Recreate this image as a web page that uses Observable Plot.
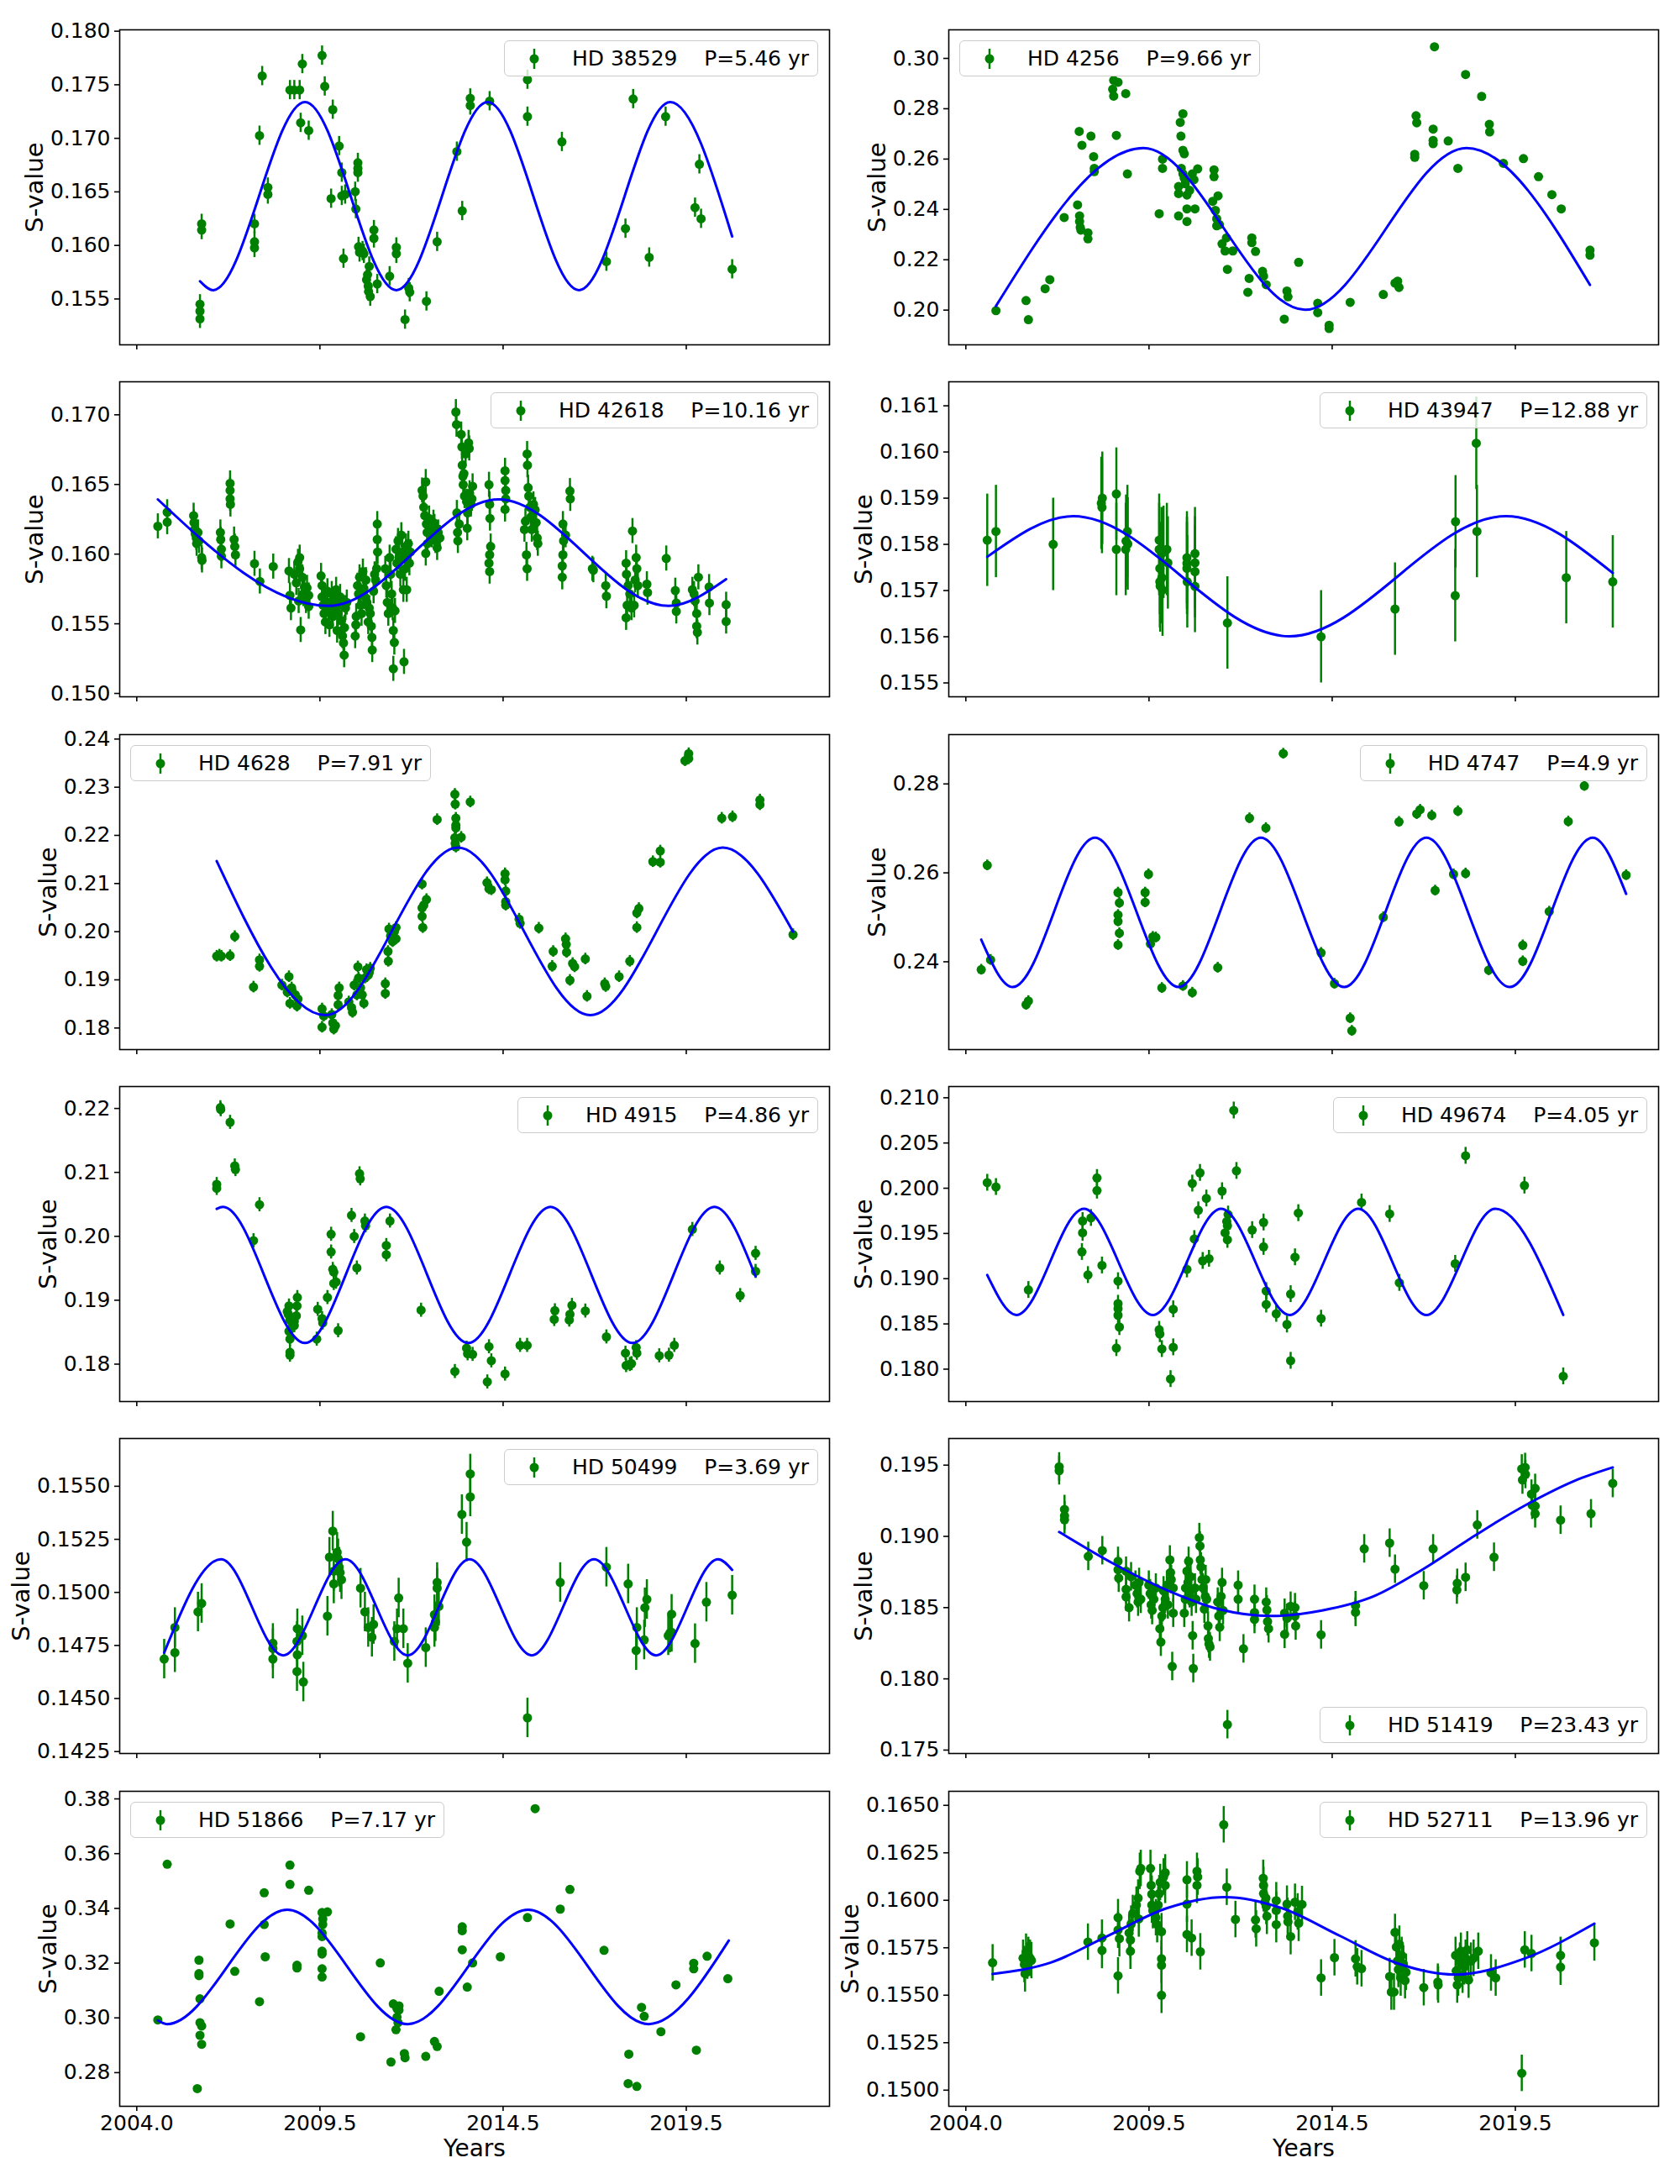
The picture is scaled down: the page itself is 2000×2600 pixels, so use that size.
<!DOCTYPE html>
<html><head><meta charset="utf-8">
<script src="https://cdn.jsdelivr.net/npm/d3@7"></script>
<script src="https://cdn.jsdelivr.net/npm/@observablehq/plot@0.6"></script>
<style>
body{margin:0;background:#fff;}
#fig{position:relative;width:2000px;height:2600px;background:#fff;font-family:"DejaVu Sans",sans-serif;overflow:hidden;}
#fig svg.plot{position:absolute;}
.overlay{position:absolute;pointer-events:none;}
.legend{position:absolute;display:flex;align-items:center;height:43px;box-sizing:border-box;border:1.6px solid #cccccc;border-radius:6px;background:rgba(255,255,255,0.8);padding:0 10px;font-size:25px;white-space:pre;color:#000;font-family:"DejaVu Sans",sans-serif;}
.legend svg{margin-right:20px;}
</style></head><body><div id="fig"></div>
<script>
// ---------- shared x axis ----------
const xDomain = [2003.49, 2024.71];
const xTickValues = [2004.0, 2009.476, 2014.952, 2020.428];
const xTickLabels = ["2004.0", "2009.5", "2014.5", "2019.5"];

// ---------- stars ----------
const stars = ["HD 38529","HD 4256","HD 42618","HD 43947","HD 4628","HD 4747","HD 4915","HD 49674","HD 50499","HD 51419","HD 51866","HD 52711"];
const periods = ["5.46","9.66","10.16","12.88","7.91","4.9","4.86","4.05","3.69","23.43","7.17","13.96"];
const legendCorner = ["tr","tl","tr","tr","tl","tr","tr","tr","tr","br","tl","tr"];
const errHalf = [0.0009,0.001,0.0009,0.001,0.0012,0.0012,0.0011,0.00093,0.00093,0.001,0.001,0.00096];
const yDomains = [[0.15072,0.18013],[0.18621,0.31135],[0.14976,0.17237],[0.15470,0.16152],[0.17552,0.24093],[0.22025,0.29110],
                  [0.17415,0.22343],[0.17642,0.21124],[0.14241,0.15725],[0.17476,0.19687],[0.26770,0.38277],[0.14915,0.16574]];
const yTickLabels = [
  ["0.155","0.160","0.165","0.170","0.175","0.180"],
  ["0.20","0.22","0.24","0.26","0.28","0.30"],
  ["0.150","0.155","0.160","0.165","0.170"],
  ["0.155","0.156","0.157","0.158","0.159","0.160","0.161"],
  ["0.18","0.19","0.20","0.21","0.22","0.23","0.24"],
  ["0.24","0.26","0.28"],
  ["0.18","0.19","0.20","0.21","0.22"],
  ["0.180","0.185","0.190","0.195","0.200","0.205","0.210"],
  ["0.1425","0.1450","0.1475","0.1500","0.1525","0.1550"],
  ["0.175","0.180","0.185","0.190","0.195"],
  ["0.28","0.30","0.32","0.34","0.36","0.38"],
  ["0.1500","0.1525","0.1550","0.1575","0.1600","0.1625","0.1650"]
];

// ---------- observations [year, S-value] ----------
const hd38529 = [[2005.89,0.15451],[2005.89,0.15386],[2005.89,0.15315],[2005.94,0.16202],[2005.94,0.16144],
[2007.52,0.16202],[2007.52,0.16034],[2007.52,0.15977],[2007.67,0.17025],[2007.75,0.17582],
[2007.92,0.16541],[2007.92,0.16476],[2008.58,0.17451],[2008.71,0.17451],[2008.87,0.17451],
[2008.90,0.17145],[2008.95,0.17694],[2009.14,0.17072],[2009.54,0.17773],[2009.62,0.17485],
[2009.81,0.16437],[2009.86,0.17268],[2010.05,0.16928],[2010.13,0.16680],[2010.13,0.16463],
[2010.18,0.15877],[2010.23,0.16476],[2010.53,0.16502],[2010.55,0.16340],[2010.61,0.16771],
[2010.61,0.16719],[2010.61,0.16680],[2010.63,0.15987],[2010.66,0.15935],[2010.75,0.15948],
[2010.79,0.15922],[2010.87,0.15679],[2010.90,0.15726],[2010.92,0.15621],[2010.93,0.15569],
[2010.95,0.15804],[2010.98,0.15522],[2011.09,0.16144],[2011.09,0.16066],[2011.19,0.15640],
[2011.56,0.15713],[2011.76,0.15982],[2011.76,0.15922],[2012.02,0.15308],[2012.13,0.15603],
[2012.16,0.15564],[2012.66,0.15478],[2012.98,0.16034],[2013.57,0.16876],[2013.73,0.16322],
[2013.97,0.17373],[2013.97,0.17307],[2014.55,0.17347],[2015.68,0.17548],[2015.68,0.17203],
[2016.71,0.16967],[2018.04,0.15849],[2018.61,0.16157],[2018.84,0.17367],[2019.32,0.15888],
[2019.81,0.17203],[2020.69,0.16353],[2020.82,0.16758],[2020.87,0.16249],[2021.80,0.15778]];

const hd4256 = [[2004.90,0.1998],[2005.80,0.2038],[2005.87,0.1962],[2006.37,0.2085],[2006.51,0.2121],[2006.94,0.2368],[2007.34,0.2418],[2007.39,0.2710],[2007.40,0.2374],[2007.40,0.2352],[2007.42,0.2329],[2007.44,0.2318],[2007.47,0.2655],[2007.65,0.2307],[2007.65,0.2283],[2007.74,0.2691],[2007.82,0.2610],[2007.84,0.2563],[2007.84,0.2550],[2008.39,0.2877],[2008.42,0.2913],[2008.42,0.2850],[2008.50,0.2694],[2008.55,0.2905],[2008.78,0.2860],[2008.83,0.2541],[2009.78,0.2383],[2009.88,0.2600],[2009.88,0.2563],[2010.36,0.2491],[2010.36,0.2463],[2010.36,0.2374],[2010.41,0.2746],[2010.43,0.2691],[2010.49,0.2780],[2010.49,0.2635],[2010.53,0.2621],[2010.44,0.2563],[2010.49,0.2541],[2010.53,0.2524],[2010.56,0.2502],[2010.61,0.2457],[2010.61,0.2402],[2010.61,0.2352],[2010.69,0.2476],[2010.77,0.2541],[2010.82,0.2518],[2010.85,0.2402],[2010.93,0.2561],[2011.38,0.2432],[2011.42,0.2557],[2011.42,0.2530],[2011.46,0.2396],[2011.50,0.2363],[2011.50,0.2335],[2011.54,0.2454],[2011.58,0.2340],[2011.66,0.2263],[2011.75,0.2235],[2011.79,0.2287],[2011.82,0.2162],[2011.98,0.2235],[2012.43,0.2071],[2012.47,0.2126],[2012.55,0.2287],[2012.55,0.2268],[2012.66,0.2233],[2012.87,0.2154],[2012.90,0.2135],[2012.98,0.2101],[2013.52,0.1964],[2013.60,0.2076],[2013.63,0.2053],[2013.95,0.2190],[2014.52,0.2027],[2014.52,0.1990],[2014.86,0.1940],[2014.86,0.1927],[2015.49,0.2031],[2016.48,0.2062],[2016.83,0.2107],[2016.91,0.2115],[2016.95,0.2090],[2017.42,0.2619],[2017.42,0.2607],[2017.46,0.2772],[2017.48,0.2744],[2017.97,0.2719],[2017.97,0.2674],[2017.97,0.2661],[2018.01,0.3046],[2018.42,0.2672],[2018.71,0.2563],[2018.94,0.2936],[2019.42,0.2849],[2019.65,0.2738],[2019.66,0.2708],[2020.07,0.2583],[2020.67,0.2602],[2021.12,0.2530],[2021.52,0.2459],[2021.80,0.2402],[2022.66,0.2238],[2022.66,0.2218]];

const hd42618 = [[2004.63,0.16200],[2004.91,0.16301],[2004.91,0.16230],
[2005.70,0.16276],[2005.71,0.16226],[2005.73,0.16176],[2005.75,0.16146],[2005.78,0.16116],[2005.79,0.16075],[2005.83,0.16156],[2005.86,0.16095],[2005.94,0.15975],[2005.95,0.15955],
[2006.50,0.16156],[2006.51,0.16105],[2006.53,0.16035],[2006.53,0.15985],
[2006.79,0.16508],[2006.79,0.16457],[2006.79,0.16397],[2006.80,0.16357],
[2006.91,0.16105],[2006.93,0.16055],[2006.95,0.15995],
[2007.52,0.15931],[2007.68,0.15804],[2008.08,0.15911],
[2008.55,0.15879],[2008.58,0.15704],[2008.61,0.15613],
[2008.71,0.15855],[2008.77,0.15794],[2008.82,0.15945],[2008.84,0.15664],[2008.87,0.15895],[2008.87,0.15975],[2008.90,0.15456],[2008.95,0.15834],[2008.98,0.15714],[2009.01,0.15764],[2009.06,0.15664],[2009.09,0.15758],[2009.14,0.15623],[2009.14,0.15704],
[2009.51,0.15844],[2009.54,0.15774],[2009.54,0.15693],[2009.57,0.15633],[2009.60,0.15573],[2009.64,0.15513],[2009.67,0.15653],[2009.70,0.15734],[2009.73,0.15593],[2009.76,0.15493],[2009.80,0.15633],[2009.83,0.15714],[2009.86,0.15553],[2009.89,0.15673],[2009.92,0.15613],[2009.96,0.15744],[2009.99,0.15452],[2010.02,0.15573],[2010.05,0.15653],[2010.08,0.15693],[2010.12,0.15523],[2010.15,0.15412],[2010.18,0.15362],[2010.20,0.15275],[2010.21,0.15472],[2010.24,0.15613],[2010.28,0.15653],
[2010.53,0.15412],[2010.55,0.15493],[2010.56,0.15553],
[2010.60,0.15774],[2010.63,0.15714],[2010.66,0.15834],[2010.69,0.15633],[2010.72,0.15573],[2010.76,0.15875],[2010.79,0.15754],[2010.82,0.15693],[2010.85,0.15814],[2010.88,0.15653],[2010.92,0.15513],[2010.95,0.15613],[2010.98,0.15573],[2011.01,0.15483],[2011.03,0.15402],[2011.04,0.15312],[2011.08,0.15734],[2011.11,0.15855],[2011.14,0.15814],[2011.17,0.15895],[2011.19,0.16216],[2011.19,0.16105],[2011.20,0.16015],
[2011.43,0.15895],[2011.46,0.15774],[2011.49,0.15653],[2011.52,0.15573],[2011.56,0.15975],[2011.59,0.15855],[2011.62,0.15714],[2011.65,0.15613],[2011.67,0.15177],[2011.67,0.15452],[2011.70,0.15366],[2011.72,0.15593],[2011.75,0.16035],[2011.78,0.15935],[2011.81,0.16095],[2011.84,0.15975],[2011.88,0.15855],[2011.91,0.16136],[2011.94,0.16015],[2011.97,0.15744],[2011.99,0.15227],[2012.02,0.15895],[2012.05,0.16055],[2012.08,0.15975],[2012.12,0.16075],[2012.15,0.15935],[2012.18,0.16015],[2012.07,0.15744],
[2012.53,0.16457],[2012.56,0.16417],[2012.58,0.16337],[2012.61,0.16276],[2012.64,0.16518],[2012.66,0.16216],[2012.68,0.16156],[2012.69,0.16075],[2012.64,0.16005],[2012.74,0.16256],[2012.77,0.16176],[2012.82,0.16136],[2012.87,0.16226],[2012.90,0.16196],[2012.93,0.16095],[2012.98,0.16045],[2013.01,0.16156],[2013.06,0.16116],
[2013.54,0.17020],[2013.56,0.16930],[2013.57,0.16296],[2013.59,0.16156],[2013.60,0.16095],[2013.64,0.16216],[2013.70,0.16859],[2013.72,0.16769],[2013.73,0.16638],[2013.75,0.16558],[2013.76,0.16498],[2013.78,0.16578],[2013.80,0.16417],[2013.83,0.16719],[2013.86,0.16377],[2013.88,0.16186],[2013.89,0.16296],[2013.92,0.16799],[2013.94,0.16759],[2013.95,0.16437],[2013.99,0.16357],[2014.02,0.16397],[2014.04,0.16487],
[2014.53,0.16498],[2014.55,0.16357],[2014.56,0.16256],[2014.58,0.16055],[2014.55,0.15995],[2014.53,0.15935],[2014.55,0.15875],
[2015.01,0.16598],[2015.01,0.16528],[2015.03,0.16457],[2015.03,0.16397],[2015.01,0.16321],
[2015.67,0.16719],[2015.68,0.16638],[2015.70,0.16477],[2015.72,0.16417],[2015.62,0.16236],[2015.59,0.16176],[2015.65,0.15995],[2015.67,0.15895],[2015.75,0.16337],[2015.78,0.16266],[2015.81,0.16176],[2015.86,0.16357],[2015.91,0.16317],[2015.94,0.16226],[2015.97,0.16116],[2015.99,0.16075],
[2016.74,0.16216],[2016.76,0.16095],[2016.74,0.15995],[2016.72,0.15915],[2016.72,0.15834],[2016.82,0.16136],[2016.95,0.16453],[2016.96,0.16397],
[2017.62,0.15895],[2017.65,0.15885],[2018.02,0.15774],[2018.04,0.15698],
[2018.63,0.15935],[2018.64,0.15855],[2018.66,0.15633],[2018.63,0.15543],[2018.69,0.15774],[2018.74,0.15714],[2018.79,0.15613],[2018.82,0.16166],[2018.87,0.15633],[2018.90,0.15814],[2018.93,0.15975],[2018.95,0.15895],[2018.98,0.15774],
[2019.25,0.15784],[2019.27,0.15724],[2019.83,0.15969],
[2020.10,0.15738],[2020.13,0.15649],[2020.13,0.15589],
[2020.61,0.15744],[2020.66,0.15714],[2020.69,0.15664],[2020.74,0.15573],[2020.74,0.15483],[2020.76,0.15438],[2020.79,0.15834],[2021.11,0.15764],[2021.12,0.15649],
[2021.62,0.15637],[2021.62,0.15517]];

const hd43947 = [[2004.64,0.15809],[2004.90,0.15828],[2006.61,0.15800],[2008.05,0.15889],[2008.07,0.15880],[2008.08,0.15900],[2008.50,0.15909],[2008.50,0.15789],[2008.78,0.15789],[2008.79,0.15807],[2008.83,0.15828],[2008.84,0.15801],[2009.78,0.15809],[2009.78,0.15789],[2009.80,0.15748],[2009.80,0.15719],[2009.81,0.15710],[2009.85,0.15780],[2009.86,0.15728],[2009.88,0.15701],[2009.91,0.15783],[2010.01,0.15789],[2010.04,0.15760],[2010.61,0.15771],[2010.61,0.15759],[2010.61,0.15748],[2010.62,0.15719],[2010.85,0.15780],[2010.85,0.15760],[2010.85,0.15741],[2010.85,0.15709],[2011.82,0.15630],[2014.62,0.15600],[2016.83,0.15660],[2018.63,0.15689],[2018.64,0.15849],[2019.26,0.16019],[2019.28,0.15828],[2021.95,0.15728],[2023.34,0.15719]];

const hd4628 = [[2006.39,0.19492],[2006.47,0.19515],[2006.53,0.19492],[2006.79,0.19504],[2006.93,0.19900],
[2007.49,0.18851],[2007.67,0.19416],[2007.67,0.19282],
[2008.34,0.18892],[2008.50,0.18746],[2008.55,0.19067],[2008.58,0.18513],[2008.63,0.18834],[2008.74,0.18688],[2008.79,0.18455],[2008.82,0.18601],
[2009.54,0.18397],[2009.54,0.18018],[2009.59,0.18251],[2009.83,0.18280],[2009.86,0.18106],[2009.89,0.17978],[2009.94,0.18048],[2010.02,0.18484],[2010.02,0.18676],[2010.05,0.18834],
[2010.34,0.18543],[2010.42,0.18426],[2010.45,0.18327],[2010.50,0.18892],[2010.58,0.18688],[2010.61,0.19271],[2010.63,0.19038],[2010.69,0.18834],[2010.74,0.18688],[2010.79,0.18513],[2010.82,0.19038],[2010.87,0.19212],[2010.92,0.19096],[2010.95,0.19154],[2010.98,0.19242],
[2011.43,0.18921],[2011.43,0.18717],[2011.51,0.19591],[2011.52,0.19387],[2011.54,0.20057],[2011.59,0.19911],[2011.65,0.19795],[2011.70,0.19999],[2011.75,0.19853],[2011.75,0.20086],
[2012.53,0.20989],[2012.53,0.20494],[2012.53,0.20319],[2012.55,0.20086],[2012.58,0.20552],[2012.66,0.20668],
[2012.98,0.22328],
[2013.51,0.22853],[2013.52,0.22649],[2013.54,0.22357],[2013.54,0.22212],[2013.54,0.22154],[2013.51,0.21950],[2013.52,0.21833],[2013.54,0.21758],[2013.70,0.21961],[2013.97,0.22695],
[2014.47,0.21018],[2014.53,0.20890],[2014.60,0.20872],
[2015.01,0.21204],[2015.01,0.21076],[2015.03,0.20843],[2015.03,0.20622],[2015.03,0.20552],
[2015.43,0.20261],[2015.46,0.20173],[2016.02,0.20074],
[2016.45,0.19591],[2016.42,0.19282],
[2016.82,0.19853],[2016.84,0.19736],[2016.85,0.19573],[2016.95,0.18991],[2017.03,0.19340],[2017.09,0.19271],
[2017.41,0.19434],[2017.46,0.18659],[2017.99,0.18921],[2018.02,0.18863],[2018.42,0.19067],[2018.74,0.19387],
[2018.95,0.20086],[2018.95,0.20389],[2019.01,0.20482],
[2019.43,0.21455],[2019.65,0.21443],[2019.65,0.21676],
[2020.39,0.23552],[2020.50,0.23697],[2020.50,0.23592],
[2021.49,0.22357],[2021.81,0.22387],[2022.63,0.22736],[2022.63,0.22637],[2023.62,0.19940]];

const hd4747 = [[2004.46,0.23823],[2004.64,0.26170],[2004.74,0.24044],[2005.80,0.23035],[2005.87,0.23117],
[2008.55,0.25558],[2008.59,0.25325],[2008.55,0.25054],[2008.55,0.24909],[2008.59,0.24643],[2008.55,0.24379],
[2009.36,0.25558],[2009.36,0.25338],[2009.46,0.25969],[2009.52,0.24404],[2009.59,0.24562],[2009.68,0.24549],
[2009.86,0.23413],[2010.49,0.23457],[2010.77,0.23306],[2011.53,0.23868],
[2012.48,0.27230],[2012.97,0.27009],[2013.49,0.28681],
[2014.62,0.24202],[2015.02,0.23508],[2015.49,0.22732],[2015.54,0.22448],
[2016.48,0.25003],[2016.95,0.27148],[2017.48,0.27325],[2017.58,0.27420],[2017.93,0.27293],[2018.03,0.25603],
[2018.58,0.25969],[2018.71,0.27388],[2018.94,0.25987],[2019.63,0.23811],
[2020.65,0.24013],[2020.65,0.24372],[2021.44,0.25129],[2022.01,0.27155],[2022.49,0.27956],[2023.74,0.25950]];

const hd4915 = [[2006.39,0.20812],[2006.39,0.20750],[2006.50,0.22013],[2006.51,0.21982],[2006.79,0.21784],[2006.93,0.21102],[2006.95,0.21045],
[2007.67,0.20495],[2007.49,0.19932],
[2008.50,0.18823],[2008.53,0.18779],[2008.55,0.18911],[2008.58,0.18691],[2008.55,0.18515],[2008.58,0.18392],[2008.58,0.18185],[2008.58,0.18141],[2008.71,0.18669],[2008.71,0.18603],[2008.77,0.18757],[2008.79,0.18911],[2008.80,0.19043],
[2009.38,0.18392],[2009.41,0.18858],[2009.54,0.18713],[2009.56,0.18647],[2009.70,0.19043],
[2009.81,0.20033],[2009.81,0.19756],[2009.86,0.19483],[2009.89,0.19439],[2009.89,0.19263],[2009.96,0.19285],[2010.02,0.18524],
[2010.42,0.20328],[2010.50,0.19998],[2010.58,0.19505],[2010.66,0.20979],[2010.68,0.20900],[2010.82,0.20240],[2010.84,0.20165],
[2011.46,0.19857],[2011.46,0.19712],[2011.57,0.20240],[2012.50,0.18845],
[2013.51,0.17886],[2013.86,0.18251],[2013.89,0.18163],[2014.04,0.18154],
[2014.48,0.17723],[2014.53,0.18273],[2014.60,0.18053],[2015.01,0.17846],[2015.46,0.18295],[2015.67,0.18295],
[2016.50,0.18836],[2016.48,0.18700],[2016.95,0.18779],[2016.93,0.18691],[2017.01,0.18920],[2017.41,0.18832],
[2018.04,0.18427],[2018.61,0.18172],[2018.63,0.17979],[2018.74,0.17996],[2018.79,0.18009],[2018.93,0.18260],[2018.95,0.18172],
[2019.62,0.18132],[2019.91,0.18141],[2020.07,0.18295],
[2020.61,0.20108],[2021.43,0.19505],[2022.04,0.19074],[2022.50,0.19734],[2022.50,0.19452]];

const hd49674 = [[2004.64,0.20061],[2004.90,0.20014],[2005.87,0.18876],
[2007.49,0.19638],[2007.49,0.19507],[2007.47,0.19296],[2007.65,0.19041],[2007.74,0.19672],[2007.92,0.20114],[2007.92,0.19974],[2008.07,0.19147],
[2008.55,0.18973],[2008.55,0.18724],[2008.55,0.18668],[2008.55,0.18596],[2008.59,0.18466],[2008.50,0.18233],
[2009.78,0.18435],[2009.80,0.18388],[2009.86,0.18223],[2010.12,0.17891],[2010.20,0.18242],[2010.20,0.18662],
[2010.61,0.19103],[2010.77,0.20052],[2010.83,0.19439],[2010.95,0.19756],[2011.00,0.20170],[2011.08,0.19197],[2011.19,0.19887],[2011.27,0.19221],
[2011.66,0.19968],[2011.75,0.19507],[2011.80,0.19632],[2011.82,0.19430],[2011.82,0.19585],[2011.84,0.19710],
[2012.01,0.20860],[2012.09,0.20192],[2012.56,0.19538],[2012.90,0.19622],[2012.90,0.19352],[2012.98,0.18864],[2012.98,0.18715],
[2013.28,0.18612],[2013.60,0.18494],[2013.71,0.18830],[2013.71,0.18093],[2013.84,0.19237],[2013.94,0.19725],
[2014.62,0.18559],[2015.83,0.19843],[2016.67,0.19716],[2016.96,0.18954],[2018.63,0.19165],[2018.94,0.20359],[2020.70,0.20030],[2021.86,0.17921]];

const hd50499 = [[2004.82,0.14686],[2005.14,0.14835],[2005.14,0.14716],[2005.83,0.14908],[2005.94,0.14948],
[2008.07,0.14760],[2008.07,0.14736],[2008.07,0.14686],
[2008.79,0.14769],[2008.80,0.14829],[2008.80,0.14706],[2008.79,0.14627],[2008.95,0.14796],[2008.98,0.14578],
[2009.70,0.14888],[2009.76,0.15166],[2009.86,0.15289],[2009.89,0.15100],[2009.89,0.15040],[2009.99,0.15189],[2010.02,0.15159],[2010.05,0.15119],[2010.08,0.15093],[2010.12,0.15060],
[2010.69,0.15020],[2010.82,0.14908],[2010.92,0.14835],[2011.03,0.14789],[2011.08,0.14849],
[2011.70,0.14769],[2011.78,0.14829],[2011.83,0.14974],[2011.97,0.14829],[2012.10,0.14666],
[2012.64,0.14740],[2012.90,0.14835],[2012.90,0.14895],[2012.93,0.14862],[2012.98,0.15047],[2012.98,0.15020],[2013.03,0.14934],
[2013.72,0.15367],[2013.86,0.15237],[2013.97,0.15558],[2013.97,0.15450],
[2015.68,0.14409],[2016.66,0.15047],[2018.04,0.15119],[2018.69,0.15040],
[2018.95,0.14835],[2018.93,0.14726],[2019.17,0.14776],[2019.19,0.14928],[2019.25,0.14967],
[2019.89,0.14796],[2019.94,0.14809],[2019.99,0.14897],[2019.99,0.14812],
[2020.69,0.14759],[2021.03,0.14954],[2021.80,0.14987]];

const hd51419 = [[2006.79,0.19488],[2006.79,0.19461],[2006.95,0.19189],[2006.95,0.19144],[2006.95,0.19116],
[2007.66,0.18860],[2008.08,0.18900],
[2008.55,0.18825],[2008.55,0.18766],[2008.57,0.18707],[2008.79,0.18756],[2008.79,0.18628],[2008.79,0.18575],[2008.88,0.18500],[2008.94,0.18717],[2009.07,0.18658],[2009.12,0.18598],[2009.15,0.18539],[2009.18,0.18677],[2009.23,0.18559],
[2009.47,0.18658],[2009.51,0.18598],[2009.54,0.18520],[2009.57,0.18480],[2009.62,0.18559],[2009.68,0.18638],
[2009.80,0.18352],[2009.83,0.18258],[2009.86,0.18441],[2009.89,0.18500],[2009.91,0.18618],[2009.96,0.18559],[2010.01,0.18658],[2010.04,0.18520],
[2010.10,0.18835],[2010.12,0.18746],[2010.14,0.18697],[2010.17,0.18087],[2010.20,0.18638],[2010.20,0.18461],
[2010.53,0.18461],[2010.56,0.18559],[2010.57,0.18638],[2010.61,0.18756],[2010.64,0.18677],[2010.66,0.18825],[2010.69,0.18598],[2010.72,0.18717],[2010.75,0.18539],[2010.78,0.18303],[2010.80,0.18073],[2010.85,0.18638],[2010.88,0.18559],
[2010.98,0.18992],[2011.00,0.18933],[2011.01,0.18835],[2011.03,0.18785],[2011.06,0.18697],[2011.09,0.18638],[2011.13,0.18490],[2011.16,0.18579],[2011.17,0.18697],[2011.20,0.18559],[2011.24,0.18372],[2011.25,0.18283],[2011.27,0.18244],[2011.30,0.18224],
[2011.53,0.18539],[2011.56,0.18441],[2011.59,0.18362],[2011.63,0.18579],[2011.66,0.18677],[2011.69,0.18480],
[2011.82,0.17679],[2012.14,0.18658],[2012.14,0.18559],[2012.30,0.18211],
[2012.63,0.18559],[2012.63,0.18465],[2012.63,0.18417],
[2012.98,0.18539],[2013.00,0.18484],[2013.02,0.18402],[2013.05,0.18352],
[2013.53,0.18461],[2013.53,0.18313],[2013.60,0.18425],[2013.71,0.18510],[2013.84,0.18500],[2013.84,0.18441],[2013.86,0.18372],
[2014.62,0.18309],[2015.65,0.18514],[2015.65,0.18467],[2015.91,0.18913],[2016.67,0.18953],[2016.83,0.18770],
[2017.69,0.18654],[2017.97,0.18913],[2018.68,0.18624],[2018.69,0.18671],[2018.94,0.18713],[2019.29,0.19081],[2019.79,0.18854],
[2020.62,0.19474],[2020.64,0.19396],[2020.72,0.19484],[2020.73,0.19435],[2020.91,0.19297],[2020.93,0.19219],[2021.02,0.19337],[2021.02,0.19213],[2021.02,0.19159],
[2021.78,0.19114],[2022.69,0.19159],[2023.34,0.19372]];

const hd51866 = [[2004.63,0.29926],[2004.91,0.35613],[2005.81,0.27416],[2005.86,0.32109],[2005.86,0.31617],[2005.86,0.31545],[2005.89,0.30695],[2005.89,0.29824],[2005.94,0.29701],[2005.89,0.29363],[2005.94,0.29035],
[2006.79,0.33430],[2006.93,0.31699],[2007.67,0.30592],[2007.81,0.34568],[2007.81,0.33410],[2007.84,0.32232],
[2008.58,0.35582],[2008.58,0.34875],[2008.79,0.31924],[2008.79,0.31822],[2009.14,0.34660],
[2009.54,0.33850],[2009.56,0.33615],[2009.56,0.33410],[2009.54,0.33102],[2009.54,0.32969],[2009.54,0.32436],[2009.54,0.32334],[2009.54,0.31791],[2009.54,0.31494],[2009.70,0.33871],
[2010.69,0.29311],[2011.28,0.32006],[2011.60,0.28389],[2011.67,0.30510],[2011.75,0.29567],[2011.78,0.30336],[2011.78,0.30029],[2011.81,0.29824],[2011.84,0.30439],[2011.84,0.30285],
[2012.00,0.28697],[2012.02,0.28543],[2012.64,0.28594],[2012.90,0.29137],[2012.98,0.28953],[2013.04,0.30971],
[2013.73,0.33328],[2013.73,0.33184],[2013.73,0.32488],[2013.88,0.31125],[2014.04,0.32006],[2014.87,0.32232],
[2015.68,0.33666],[2015.91,0.37641],[2016.66,0.33973],[2016.95,0.34691],[2017.97,0.32467],
[2018.69,0.27600],[2018.71,0.28676],[2018.95,0.27498],[2019.09,0.30387],[2019.17,0.30060],[2019.67,0.29496],[2020.12,0.31207],[2020.65,0.31996],[2020.65,0.31791],[2020.73,0.28819],[2021.05,0.32252],[2021.67,0.31432]];

const hd52711 = [[2004.80,0.15671],
[2005.71,0.15695],[2005.75,0.15662],[2005.77,0.15613],[2005.80,0.15727],[2005.84,0.15680],[2005.87,0.15710],[2005.92,0.15695],[2005.96,0.15683],
[2007.65,0.15780],[2008.07,0.15801],[2008.07,0.15736],
[2008.55,0.15909],[2008.55,0.15843],[2008.59,0.15798],[2008.55,0.15602],
[2008.88,0.15828],[2008.92,0.15791],[2008.92,0.15732],[2008.94,0.15875],[2008.99,0.15931],
[2009.10,0.15975],[2009.15,0.16012],[2009.20,0.16153],[2009.23,0.16168],[2009.17,0.15902],
[2009.52,0.16168],[2009.54,0.16079],[2009.56,0.16032],[2009.56,0.15975],[2009.59,0.15946],
[2009.68,0.15909],[2009.72,0.15872],[2009.75,0.15975],[2009.78,0.16035],[2009.81,0.16094],[2009.85,0.15835],[2009.85,0.15692],[2009.85,0.15658],[2009.85,0.15500],[2009.91,0.16123],[2009.96,0.16145],[2009.96,0.16079],
[2010.61,0.16108],[2010.61,0.15980],[2010.61,0.15820],[2010.75,0.15801],
[2010.91,0.16153],[2010.93,0.16123],[2010.91,0.16079],[2011.01,0.15729],
[2011.71,0.16398],[2011.80,0.16069],[2012.06,0.15899],[2012.66,0.15897],[2012.68,0.15850],
[2012.89,0.16116],[2012.90,0.16079],[2012.90,0.16035],[2012.94,0.15990],[2012.97,0.16012],[2012.98,0.15968],[2013.00,0.15916],
[2013.28,0.15998],[2013.28,0.15946],[2013.28,0.15872],
[2013.60,0.15980],[2013.62,0.15916],[2013.63,0.15887],[2013.71,0.15809],
[2013.84,0.15990],[2013.92,0.15939],[2013.95,0.15879],[2014.05,0.15978],
[2014.62,0.15591],[2015.02,0.15698],[2015.65,0.15692],[2015.70,0.15650],[2015.83,0.15640],
[2016.67,0.15599],[2016.72,0.15517],[2016.80,0.15517],[2016.83,0.15831],[2016.87,0.15754],[2016.90,0.15680],[2016.93,0.15636],[2016.96,0.15769],[2017.00,0.15591],[2017.03,0.15710],[2017.08,0.15665],[2017.13,0.15577],[2017.16,0.15621],
[2017.69,0.15540],[2018.11,0.15569],[2018.12,0.15554],
[2018.64,0.15710],[2018.66,0.15628],[2018.69,0.15554],[2018.72,0.15591],[2018.77,0.15680],[2018.80,0.15732],[2018.85,0.15606],[2018.90,0.15650],[2018.94,0.15695],[2018.99,0.15739],[2019.03,0.15580],[2019.10,0.15680],[2019.18,0.15695],[2019.32,0.15732],
[2019.70,0.15618],[2019.84,0.15591],[2020.62,0.15089],[2020.71,0.15739],[2020.91,0.15720],[2021.78,0.15710],[2021.78,0.15648],[2022.79,0.15776]];

// ---------- fitted curves, key points [year, S-value] ----------
const hd38529Fit = [[2005.89,0.15666],[2006.28,0.15582],[2009.03,0.17339],[2011.76,0.15582],[2014.49,0.17339],[2017.22,0.15582],[2019.95,0.17339],[2021.80,0.16084]];
const hd4256Fit  = [[2004.90,0.2016],[2009.31,0.26441],[2014.14,0.20011],[2018.97,0.26441],[2022.66,0.2100]];
const hd42618Fit = [[2004.63,0.16393],[2009.74,0.15628],[2014.82,0.16393],[2019.90,0.15628],[2021.62,0.15820]];
const hd43947Fit = [[2004.64,0.15773],[2007.21,0.15861],[2013.68,0.15601],[2020.15,0.15861],[2023.34,0.15738]];
const hd4628Fit  = [[2006.39,0.21466],[2009.64,0.18265],[2013.60,0.21746],[2017.56,0.18265],[2021.52,0.21746],[2023.62,0.20000]];
const hd4747Fit  = [[2004.46,0.24498],[2005.40,0.23432],[2007.86,0.26789],[2010.36,0.23432],[2012.82,0.26789],[2015.31,0.23432],[2017.77,0.26789],[2020.26,0.23432],[2022.74,0.26789],[2023.74,0.25527]];
const hd4915Fit  = [[2006.39,0.20429],[2006.58,0.20460],[2009.03,0.18330],[2011.46,0.20460],[2013.91,0.18330],[2016.37,0.20460],[2018.82,0.18330],[2021.27,0.20460],[2022.50,0.19373]];
const hd49674Fit = [[2004.64,0.19041],[2005.51,0.18599],[2007.53,0.19772],[2009.59,0.18599],[2011.63,0.19772],[2013.68,0.18599],[2015.73,0.19772],[2017.77,0.18599],[2019.83,0.19772],[2021.86,0.18599]];
const hd50499Fit = [[2004.82,0.14716],[2006.52,0.15156],[2008.38,0.14703],[2010.24,0.15156],[2012.10,0.14703],[2013.95,0.15156],[2015.81,0.14703],[2017.67,0.15156],[2019.53,0.14703],[2021.38,0.15156],[2021.80,0.15106]];
const hd51419Fit = [[2006.79,0.19031],[2008.40,0.18810],[2009.96,0.18628],[2011.55,0.18490],[2013.11,0.18441],[2014.65,0.18480],[2016.19,0.18579],[2017.60,0.18760],[2018.97,0.18968],[2020.00,0.19120],[2021.04,0.19258],[2022.20,0.19390],[2023.34,0.19484]];
const hd51866Fit = [[2004.63,0.29906],[2004.90,0.29773],[2008.50,0.33953],[2012.10,0.29773],[2015.70,0.33953],[2019.30,0.29773],[2021.70,0.32826]];
const hd52711Fit = [[2004.80,0.15612],[2006.54,0.15672],[2008.27,0.15815],[2010.00,0.15958],[2011.74,0.16017],[2013.46,0.15958],[2015.18,0.15813],[2016.90,0.15668],[2018.61,0.15609],[2020.70,0.15693],[2022.79,0.15877]];

const observations = [hd38529,hd4256,hd42618,hd43947,hd4628,hd4747,hd4915,hd49674,hd50499,hd51419,hd51866,hd52711];
const fits = [hd38529Fit,hd4256Fit,hd42618Fit,hd43947Fit,hd4628Fit,hd4747Fit,hd4915Fit,hd49674Fit,hd50499Fit,hd51419Fit,hd51866Fit,hd52711Fit];

// ---------- layout ----------
const fig = document.getElementById("fig");
const frameTops = [35, 454, 874, 1293, 1712, 2132];
const frameLefts = [142, 1129];
const FW = 845, FH = 375;
const ML = 150, MR = 15, MT = 15;
const FS = 25;
const TICK = 6, PAD = 5;

function labelWidth(s) {
  let w = 0;
  for (const ch of s) w += (ch === ".") ? 0.318 : 0.636;
  return w * FS;
}

stars.forEach((star, i) => {
  const r = Math.floor(i / 2), c = i % 2;
  const isBottom = r === 5;
  const MB = isBottom ? 95 : 20;
  const labels = yTickLabels[i];
  const yTicks = labels.map(Number);
  const fmt = new Map(yTicks.map((v, k) => [v, labels[k]]));
  const maxW = d3.max(labels, labelWidth);
  const yLabelOffset = TICK + PAD + maxW + 18;
  const err = errHalf[i];
  const obs = observations[i];

  const marks = [
    Plot.ruleX(obs, {x: d => d[0], y1: d => d[1] - err, y2: d => d[1] + err, stroke: "green", strokeWidth: 2.5}),
    Plot.dot(obs, {x: d => d[0], y: d => d[1], r: 5.5, fill: "green"}),
    Plot.line(fits[i], {x: d => d[0], y: d => d[1], stroke: "blue", strokeWidth: 3, curve: "monotone-x"}),
    Plot.frame({stroke: "black", strokeWidth: 1.6}),
    Plot.axisY({ticks: yTicks, tickFormat: d => fmt.get(d) ?? "", tickSize: TICK, tickPadding: PAD, strokeWidth: 1.6, label: null, fontSize: FS}),
    Plot.axisX({ticks: xTickValues, tickFormat: (d) => isBottom ? xTickLabels[xTickValues.indexOf(d)] : "", tickSize: TICK, tickPadding: PAD, strokeWidth: 1.6, label: null, fontSize: FS}),
    Plot.text(["S-value"], {frameAnchor: "left", dx: -yLabelOffset, rotate: -90, fontSize: 29, textAnchor: "middle", lineAnchor: "middle", fill: "black"})
  ];
  if (isBottom) marks.push(Plot.text(["Years"], {frameAnchor: "bottom", dy: 51, fontSize: 28, lineAnchor: "middle", fill: "black"}));

  const svg = Plot.plot({
    width: ML + FW + MR, height: MT + FH + MB,
    marginLeft: ML, marginRight: MR, marginTop: MT, marginBottom: MB,
    style: {fontFamily: "DejaVu Sans", fontSize: FS + "px", color: "black", background: "transparent", overflow: "visible"},
    x: {domain: xDomain},
    y: {domain: yDomains[i]},
    marks
  });
  svg.classList.add("plot");
  svg.style.left = (frameLefts[c] - ML) + "px";
  svg.style.top = (frameTops[r] - MT) + "px";
  fig.appendChild(svg);

  // legend overlay
  const ov = document.createElement("div");
  ov.className = "overlay";
  ov.style.left = frameLefts[c] + "px";
  ov.style.top = frameTops[r] + "px";
  ov.style.width = FW + "px";
  ov.style.height = FH + "px";
  const lg = document.createElement("div");
  lg.className = "legend";
  const corner = legendCorner[i];
  if (corner === "tr") { lg.style.top = "13px"; lg.style.right = "13px"; }
  else if (corner === "tl") { lg.style.top = "13px"; lg.style.left = "13px"; }
  else { lg.style.bottom = "12px"; lg.style.right = "13px"; }
  lg.innerHTML = '<svg width="50" height="40" viewBox="0 0 50 40"><line x1="25" x2="25" y1="8" y2="32" stroke="green" stroke-width="2.5"/><circle cx="25" cy="20" r="5.5" fill="green"/></svg>';
  const span = document.createElement("span");
  span.textContent = star + "    P=" + periods[i] + " yr";
  lg.appendChild(span);
  ov.appendChild(lg);
  fig.appendChild(ov);
});
</script></body></html>
